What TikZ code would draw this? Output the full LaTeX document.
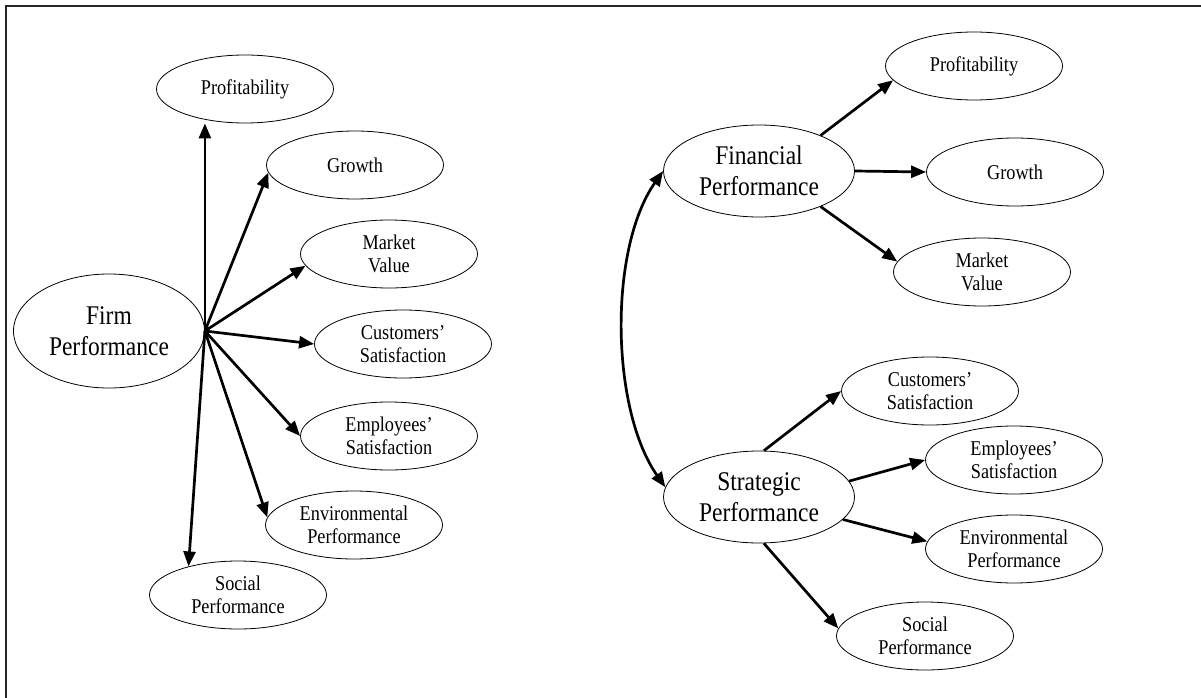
\documentclass[tikz,border=0pt]{standalone}
\usepackage{fontspec}
\setmainfont[FakeStretch=0.87]{Liberation Serif}
\usetikzlibrary{shapes,arrows.meta}

\begin{document}
\begin{tikzpicture}[%
    >={Triangle[length=15pt, width=12pt]}, % Big filled heads on every link
    x=1pt, y=-1pt,              % Work in page points, y running down
    ]
% -------------------------------------------------
% Ellipse styles
\tikzset{
  base/.style={draw, ellipse, align=center, inner sep=0pt, line width=0.8pt},
  leaf/.style={base, minimum width=177pt, minimum height=68pt,
    font=\fontsize{21}{23.5}\selectfont},
  hub/.style={base, minimum width=191pt, minimum height=92pt,
    font=\fontsize{27}{30.5}\selectfont},
  % -------------------------------------------------
  % Line styles
  link/.style={->, draw, line width=2.7pt},
  dlink/.style={<->, draw, line width=2.7pt},
  frame/.style={draw, line width=2pt, black!85}
}
\useasboundingbox (0,0) rectangle (1201,698);
\draw [frame] (6,698) -- (6,6) -- (1201,6);
% -------------------------------------------------
% One construct: firm performance and its seven facets
\node [hub, minimum height=114pt] (firm) at (109,331) {Firm\\Performance};
\node [leaf] (prof) at (245,89)  {Profitability};
\node [leaf] (grw)  at (355,165) {Growth};
\node [leaf] (mval) at (389,254) {Market\\Value};
\node [leaf] (cust) at (403,344) {Customers’\\Satisfaction};
\node [leaf] (empl) at (389,436) {Employees’\\Satisfaction};
\node [leaf] (env)  at (354,525) {Environmental\\Performance};
\node [leaf] (soc)  at (238,595) {Social\\Performance};
% -------------------------------------------------
% Two constructs: financial and strategic performance
\node [hub] (fp) at (759,171) {Financial\\Performance};
\node [leaf] (fprof) at (974,66)   {Profitability};
\node [leaf] (fgrw)  at (1015,172) {Growth};
\node [leaf] (fmval) at (982,272)  {Market\\Value};

\node [hub] (sp) at (759,497) {Strategic\\Performance};
\node [leaf] (scust) at (930,391)  {Customers’\\Satisfaction};
\node [leaf] (sempl) at (1014,460) {Employees’\\Satisfaction};
\node [leaf] (senv)  at (1014,549) {Environmental\\Performance};
\node [leaf] (ssoc)  at (925,636)  {Social\\Performance};
% -------------------------------------------------
% The fan of links out of the single construct
\draw [link] (firm.east) -- (firm.east |- prof.south);
\draw [link] (firm.east) -- (grw.185);
\draw [link] (firm.east) -- (mval.188);
\draw [link] (firm.east) -- (cust.west);
\draw [link] (firm.east) -- (empl.west);
\draw [link] (firm.east) -- (env.175);
\draw [link] (firm.east) -- (soc.150);
% -------------------------------------------------
% Links of the two-construct model
\draw [link] (fp.30)   -- (fprof.190);
\draw [link] (fp.east) -- (fgrw.west);
\draw [link] (fp.330)  -- (fmval.173);
\draw [link] (sp.84)   -- (scust.west);
\draw [link] (sp.10)   -- (sempl.west);
\draw [link] (sp.345)  -- (senv.175);
\draw [link] (sp.276)  -- (ssoc.175);
% The two constructs are correlated
\draw [dlink] (fp.west) to [out=235, in=125, looseness=0.77] (sp.174);
\end{tikzpicture}
\end{document}
